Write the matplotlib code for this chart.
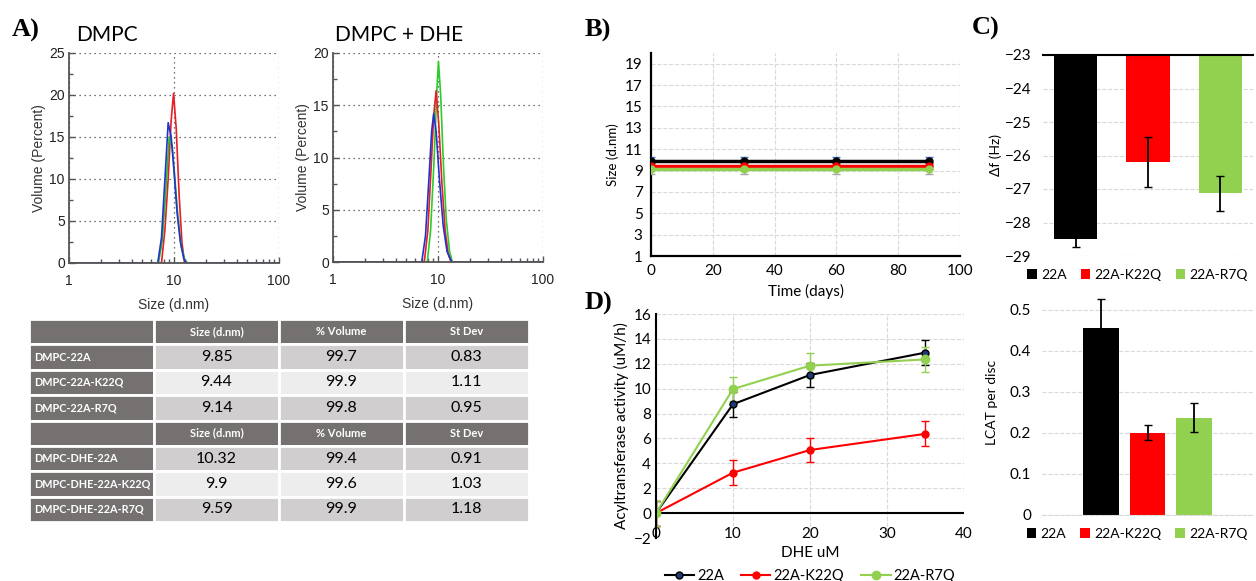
import matplotlib
matplotlib.use('Agg')
import matplotlib.pyplot as plt
from matplotlib.ticker import MultipleLocator, LogLocator, NullFormatter
from matplotlib.table import Table
from matplotlib.lines import Line2D

plt.rcParams['font.family'] = ['Lato', 'DejaVu Sans']

W, H = 1256, 581

# ---- A) DLS volume distributions
dmpc_red_x = [1, 7.6, 8.2, 8.8, 9.4, 9.9, 10.5, 11.2, 11.9, 12.6, 100]
dmpc_red_y = [0, 0, 4, 10, 17, 20.2, 16, 8, 2.5, 0, 0]
dmpc_green_x = [1, 7.1, 7.7, 8.3, 9.0, 9.6, 10.2, 10.9, 11.7, 12.6, 13.4, 100]
dmpc_green_y = [0, 0, 2.5, 8, 15, 14, 10, 5.5, 2, 0.5, 0, 0]
dmpc_blue_x = [1, 7.0, 7.6, 8.2, 8.8, 9.4, 10.0, 10.7, 11.5, 12.4, 13.1, 100]
dmpc_blue_y = [0, 0, 3, 10, 16.7, 15, 11, 6, 2.5, 0.5, 0, 0]

dhe_red_x = [1, 7.4, 8.0, 8.6, 9.1, 9.6, 10.2, 10.9, 11.7, 12.5, 13.3, 100]
dhe_red_y = [0, 0, 3, 9, 14, 16.4, 13, 7.5, 3, 0.8, 0, 0]
dhe_green_x = [1, 7.9, 8.5, 9.2, 9.7, 10.1, 10.6, 11.3, 12.0, 12.9, 13.7, 100]
dhe_green_y = [0, 0, 3, 10, 16, 19.2, 16, 9, 4, 1, 0, 0]
dhe_blue_x = [1, 7.0, 7.6, 8.2, 8.7, 9.1, 9.6, 10.3, 11.2, 12.2, 13.5, 100]
dhe_blue_y = [0, 0, 2.5, 8, 12.5, 14.2, 12.5, 8, 3.5, 1, 0, 0]

# table
tbl_header = ['', 'Size (d.nm)', '% Volume', 'St Dev']
tbl_names1 = ['DMPC-22A', 'DMPC-22A-K22Q', 'DMPC-22A-R7Q']
tbl_size1 = [9.85, 9.44, 9.14]
tbl_vol1 = [99.7, 99.9, 99.8]
tbl_sd1 = [0.83, 1.11, 0.95]
tbl_names2 = ['DMPC-DHE-22A', 'DMPC-DHE-22A-K22Q', 'DMPC-DHE-22A-R7Q']
tbl_size2 = [10.32, 9.9, 9.59]
tbl_vol2 = [99.4, 99.6, 99.9]
tbl_sd2 = [0.91, 1.03, 1.18]

# ---- B) size over time
days = [0, 30, 60, 90]
size_22a = [9.85, 9.85, 9.85, 9.85]
size_k22q = [9.44, 9.44, 9.44, 9.44]
size_r7q = [9.14, 9.14, 9.14, 9.14]
size_22a_err = [0.4, 0.4, 0.4, 0.4]
size_k22q_err = [0.3, 0.3, 0.3, 0.3]
size_r7q_err = [0.5, 0.5, 0.5, 0.5]

# ---- C) QCM and LCAT per disc
names = ['22A', '22A-K22Q', '22A-R7Q']
df = [-28.5, -26.2, -27.13]
df_err = [0.23, 0.74, 0.52]
lcat = [0.455, 0.2, 0.237]
lcat_err = [0.071, 0.018, 0.035]

# ---- D) acyltransferase activity
dhe = [0, 10, 20, 35]
act_22a = [0, 8.75, 11.1, 12.9]
act_k22q = [0, 3.25, 5.07, 6.37]
act_r7q = [0, 9.97, 11.85, 12.35]
act_22a_err = [1, 1, 1, 1]
act_k22q_err = [1, 1, 1, 1]
act_r7q_err = [1, 1, 1, 1]

BLACK, RED, GREEN = '#000000', '#ff0000', '#92d050'


def rect(l, t, r, b):
    return [l / W, 1 - b / H, (r - l) / W, (b - t) / H]


def ftxt(x, y, s, **kw):
    fig.text(x / W, 1 - y / H, s, **kw)


fig = plt.figure(figsize=(W / 100, H / 100), dpi=100)

# ---------------- A
dls = [
    (rect(69, 53, 279, 263), 25, [(dmpc_red_x, dmpc_red_y, '#e41f26'),
                                  (dmpc_green_x, dmpc_green_y, '#2dbb2d'),
                                  (dmpc_blue_x, dmpc_blue_y, '#2233cc')]),
    (rect(333, 53, 543, 262), 20, [(dhe_green_x, dhe_green_y, '#2dcc2d'),
                                   (dhe_red_x, dhe_red_y, '#e41f26'),
                                   (dhe_blue_x, dhe_blue_y, '#2233cc')]),
]
for pos, ymax, curves in dls:
    ax = fig.add_axes(pos)
    for xs, ys, c in curves:
        ax.plot(xs, ys, color=c, lw=1.2)
    ax.set_xscale('log')
    ax.set_xlim(1, 100)
    ax.set_ylim(0, ymax)
    ax.xaxis.set_minor_locator(LogLocator(base=10, subs=range(2, 10)))
    ax.xaxis.set_minor_formatter(NullFormatter())
    ax.set_xticks([1, 10, 100])
    ax.set_xticklabels(['1', '10', '100'])
    ax.yaxis.set_major_locator(MultipleLocator(5))
    ax.yaxis.set_minor_locator(MultipleLocator(2.5))
    ax.grid(True, which='major', ls=(0, (1, 3)), color='#444', lw=0.9)
    for s in ['top', 'right']:
        ax.spines[s].set_visible(False)
    for s in ['left', 'bottom']:
        ax.spines[s].set_color('#555')
        ax.spines[s].set_linewidth(1.3)
    ax.tick_params(which='both', direction='in', colors='#555', labelcolor='#222',
                   labelsize=10, length=4, width=1, pad=3)
    ax.tick_params(which='minor', length=3)
    ax.tick_params(axis='x', pad=8)
    for lab in ax.get_xticklabels() + ax.get_yticklabels():
        lab.set_family('Liberation Sans')
    ax.set_xlabel('Size (d.nm)', fontsize=10, color='#333', family='Liberation Sans', labelpad=7)
    ax.set_ylabel('Volume (Percent)', fontsize=10, color='#333', family='Liberation Sans', labelpad=2)

ftxt(12, 30, 'A)', fontsize=19, weight='bold', family='Liberation Serif', va='center')
ftxt(76, 35, 'DMPC', fontsize=15, va='center')
ftxt(335, 35, 'DMPC + DHE', fontsize=15, va='center')

# table
axt = fig.add_axes(rect(29, 319, 529, 522))
axt.axis('off')
tb = Table(axt, bbox=[0, 0, 1, 1])
rows = [tbl_header]
rows += [[n, str(a), str(b), str(c)] for n, a, b, c in zip(tbl_names1, tbl_size1, tbl_vol1, tbl_sd1)]
rows += [tbl_header]
rows += [[n, str(a), str(b), str(c)] for n, a, b, c in zip(tbl_names2, tbl_size2, tbl_vol2, tbl_sd2)]
dark = '#767171'
nr = len(rows)
for r, row in enumerate(rows):
    header = row[0] == ''
    shade = '#d0cece' if r in (1, 3, 5, 7) else '#ededed'
    for c, txt in enumerate(row):
        fc = dark if (header or c == 0) else shade
        cell = tb.add_cell(r, c, 1 / 4, 1 / nr, text=txt, facecolor=fc,
                           loc='left' if (c == 0 and not header) else 'center')
        cell.set_edgecolor('white')
        cell.set_linewidth(2)
        cell.PAD = 0.04
        t = cell.get_text()
        if header or c == 0:
            t.set_color('white')
            t.set_weight('bold')
            t.set_fontsize(8 if header else 7.8)
        else:
            t.set_fontsize(11.5)
tb.auto_set_font_size(False)
axt.add_table(tb)

# ---------------- B
ax = fig.add_axes(rect(651, 53, 960, 256))
ax.errorbar(days, size_22a, yerr=size_22a_err, color=BLACK, lw=2.5, marker='o', ms=5,
            ecolor='#4472c4', elinewidth=1, capsize=3, zorder=3)
ax.errorbar(days, size_k22q, yerr=size_k22q_err, color=RED, lw=2.5, marker='o', ms=5,
            ecolor=RED, elinewidth=1, capsize=3, zorder=3)
ax.errorbar(days, size_r7q, yerr=size_r7q_err, color=GREEN, lw=2.5, marker='o', ms=5,
            ecolor='#a5a5a5', elinewidth=1, capsize=3, zorder=3)
ax.set_xlim(0, 100)
ax.set_ylim(1, 20)
ax.set_xticks([0, 20, 40, 60, 80, 100])
ax.set_yticks(range(1, 20, 2))
ax.grid(True, ls='--', color='#d9d9d9', lw=0.8)
ax.set_axisbelow(True)
for s in ['top', 'right']:
    ax.spines[s].set_visible(False)
for s in ['left', 'bottom']:
    ax.spines[s].set_linewidth(1.6)
ax.tick_params(length=0, labelsize=11, pad=6)
ax.set_xlabel('Time (days)', fontsize=11)
ax.set_ylabel('Size (d.nm)', fontsize=9.5, labelpad=4)
ftxt(585, 30, 'B)', fontsize=19, weight='bold', family='Liberation Serif', va='center')

# ---------------- C top
xs = range(len(names))
leg_kw = dict(loc='center', ncol=3, frameon=False, fontsize=10, handlelength=0.7,
              handleheight=0.7, handletextpad=0.3, columnspacing=1.0)
ax = fig.add_axes(rect(1043, 55, 1253, 256))
bars = ax.bar(xs, [v + 23 for v in df], bottom=-23, width=0.6, color=[BLACK, RED, GREEN])
ax.errorbar(xs, df, yerr=df_err, fmt='none', ecolor='black', elinewidth=1.3, capsize=3)
ax.set_xlim(-0.45, 2.45)
ax.set_ylim(-29, -23)
ax.set_yticks(range(-29, -22))
ax.set_xticks([])
ax.grid(True, axis='y', ls='--', color='#d9d9d9', lw=0.8)
ax.set_axisbelow(True)
for s in ['left', 'right', 'bottom']:
    ax.spines[s].set_visible(False)
ax.spines['top'].set_linewidth(1.5)
ax.tick_params(length=0, labelsize=11, pad=8)
ax.set_ylabel('Δf (Hz)', fontsize=10, labelpad=2)
ax.legend(bars.patches, names, bbox_to_anchor=(0.45, -0.095), **leg_kw)
ftxt(972, 28, 'C)', fontsize=19, weight='bold', family='Liberation Serif', va='center')

# ---------------- C bottom
ax = fig.add_axes(rect(1042, 289, 1253, 515))
bars = ax.bar(xs, lcat, width=0.77, color=[BLACK, RED, GREEN])
ax.errorbar(xs, lcat, yerr=lcat_err, fmt='none', ecolor='black', elinewidth=1.3, capsize=3,
            clip_on=False)
ax.set_xlim(-1.26, 3.26)
ax.set_ylim(0, 0.55)
ax.set_yticks([0, 0.1, 0.2, 0.3, 0.4, 0.5])
ax.set_yticklabels(['0', '0.1', '0.2', '0.3', '0.4', '0.5'])
ax.set_xticks([])
ax.grid(True, axis='y', ls='--', color='#d9d9d9', lw=0.8)
ax.set_axisbelow(True)
for s in ['left', 'right', 'top']:
    ax.spines[s].set_visible(False)
ax.spines['bottom'].set_color('#d9d9d9')
ax.spines['bottom'].set_linestyle('--')
ax.tick_params(length=0, labelsize=11, pad=8)
ax.set_ylabel('LCAT per disc', fontsize=10, labelpad=8)
ax.legend(bars.patches, names, bbox_to_anchor=(0.45, -0.085), **leg_kw)

# ---------------- D
ax = fig.add_axes(rect(656, 314, 964, 538))
ax.errorbar(dhe, act_22a, yerr=act_22a_err, color=BLACK, lw=1.5, marker='o', ms=5,
            mfc='#1f3b73', mec=BLACK, ecolor=BLACK, elinewidth=1, capsize=3)
ax.errorbar(dhe, act_k22q, yerr=act_k22q_err, color=RED, lw=1.5, marker='o', ms=5,
            ecolor=RED, elinewidth=1, capsize=3)
ax.errorbar(dhe, act_r7q, yerr=act_r7q_err, color=GREEN, lw=1.5, marker='o', ms=6,
            ecolor=GREEN, elinewidth=1, capsize=3)
ax.set_xlim(0, 40)
ax.set_ylim(-2, 16)
ax.set_xticks([0, 10, 20, 30, 40])
ax.set_yticks(range(-2, 17, 2))
ax.grid(True, ls='--', color='#d9d9d9', lw=0.8)
ax.set_axisbelow(True)
ax.axhline(0, color='black', lw=1.5, zorder=1)
for s in ['top', 'right', 'bottom']:
    ax.spines[s].set_visible(False)
ax.spines['left'].set_linewidth(1.5)
ax.tick_params(length=0, labelsize=11)
ax.tick_params(axis='x', pad=-8)
ax.set_xlabel('DHE uM', fontsize=11, labelpad=4)
ax.set_ylabel('Acyltransferase activity (uM/h)', fontsize=11, labelpad=3)
handles = [Line2D([], [], color=BLACK, lw=1.5, marker='o', ms=5, mfc='#1f3b73', mec=BLACK),
           Line2D([], [], color=RED, lw=1.5, marker='o', ms=5),
           Line2D([], [], color=GREEN, lw=1.5, marker='o', ms=6)]
ax.legend(handles, names, loc='center', bbox_to_anchor=(0.5, -0.17), ncol=3,
          frameon=False, fontsize=10.5, handlelength=2, handletextpad=0.2,
          columnspacing=1.2)
ftxt(585, 303, 'D)', fontsize=19, weight='bold', family='Liberation Serif', va='center')

fig.savefig('out.png', dpi=100)
